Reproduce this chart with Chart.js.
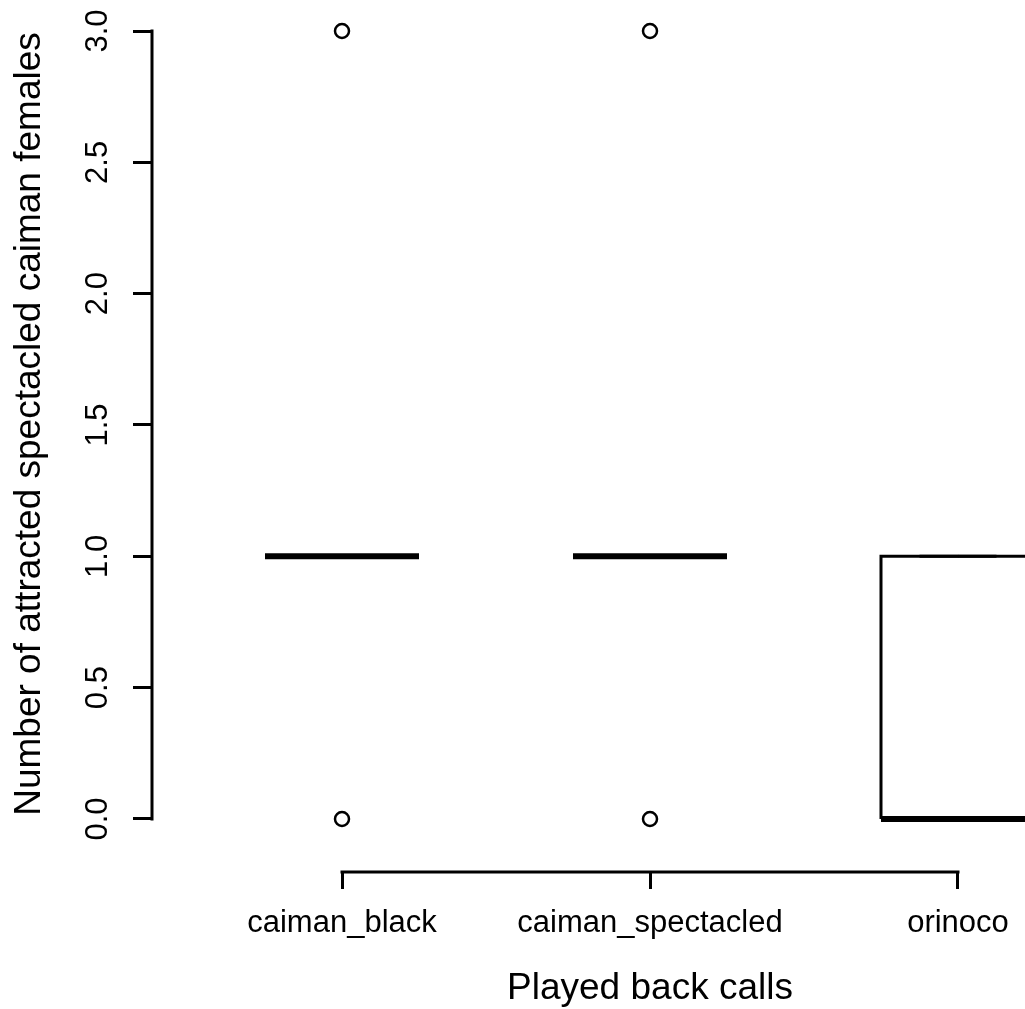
<!DOCTYPE html>
<html lang="en">
<head>
<meta charset="utf-8">
<title>Played back calls</title>
<script src="https://cdn.jsdelivr.net/npm/chart.js@4.4.1/dist/chart.umd.min.js"></script>
<style>
  html, body { margin: 0; padding: 0; overflow: hidden; background: #fff; }
  #boxChart { position: absolute; left: 0; top: -24px; }
</style>
</head>
<body>
<canvas id="boxChart" width="1148" height="1033"></canvas>
<script>
// 박스플롯 데이터
const categories = ['caiman_black', 'caiman_spectacled', 'orinoco'];
const lowerWhisker = [1, 1, 0];
const q1Values = [1, 1, 0];
const medianValues = [1, 1, 0];
const q3Values = [1, 1, 1];
const upperWhisker = [1, 1, 1];
const outlierValues = [[0, 3], [0, 3], []];
const yTicks = [0, 0.5, 1, 1.5, 2, 2.5, 3];

const BOX_HALF = 0.25;
const STAPLE_HALF = 0.125;

const BoxPlotChart = {
  init() {
    Chart.defaults.font.family = "'Liberation Sans', Arial, sans-serif";
    Chart.defaults.color = '#000';
    this.draw();
  },

  // 선 하나짜리 데이터셋
  lineSet(points, width, extra) {
    return Object.assign({
      data: points,
      showLine: true,
      borderColor: '#000',
      borderWidth: width,
      borderCapStyle: 'butt',
      borderJoinStyle: 'miter',
      pointRadius: 0,
      fill: false,
      tension: 0,
      order: 1
    }, extra || {});
  },

  // 박스, 수염, 중앙값, 이상치
  buildDatasets() {
    const sets = [];
    categories.forEach((name, i) => {
      const x = i + 1;
      // 중앙값 (맨 위에 그림)
      sets.push(this.lineSet([
        { x: x - BOX_HALF, y: medianValues[i] },
        { x: x + BOX_HALF, y: medianValues[i] }
      ], 6, { order: 0 }));
      // 박스
      sets.push(this.lineSet([
        { x: x - BOX_HALF, y: q1Values[i] },
        { x: x + BOX_HALF, y: q1Values[i] },
        { x: x + BOX_HALF, y: q3Values[i] },
        { x: x - BOX_HALF, y: q3Values[i] },
        { x: x - BOX_HALF, y: q1Values[i] }
      ], 3));
      // 수염 (점선)
      sets.push(this.lineSet([
        { x: x, y: q1Values[i] }, { x: x, y: lowerWhisker[i] }
      ], 3, { borderDash: [12, 12] }));
      sets.push(this.lineSet([
        { x: x, y: q3Values[i] }, { x: x, y: upperWhisker[i] }
      ], 3, { borderDash: [12, 12] }));
      // 수염 끝
      sets.push(this.lineSet([
        { x: x - STAPLE_HALF, y: lowerWhisker[i] }, { x: x + STAPLE_HALF, y: lowerWhisker[i] }
      ], 3));
      sets.push(this.lineSet([
        { x: x - STAPLE_HALF, y: upperWhisker[i] }, { x: x + STAPLE_HALF, y: upperWhisker[i] }
      ], 3));
    });

    // 이상치
    const outliers = [];
    outlierValues.forEach((vals, i) => {
      vals.forEach(v => outliers.push({ x: i + 1, y: v }));
    });
    sets.push({
      data: outliers,
      showLine: false,
      pointStyle: 'circle',
      pointRadius: 7,
      pointBorderWidth: 2.5,
      pointBorderColor: '#000',
      pointBackgroundColor: 'rgba(0,0,0,0)',
      order: 0
    });
    return sets;
  },

  // R 스타일 축선 (첫 눈금 ~ 마지막 눈금)
  axisLinePlugin: {
    id: 'axisLines',
    afterDraw(chart) {
      const { ctx, chartArea, scales: { x, y } } = chart;
      ctx.save();
      ctx.strokeStyle = '#000';
      ctx.lineWidth = 3;
      ctx.lineCap = 'square';
      ctx.beginPath();
      ctx.moveTo(chartArea.left, y.getPixelForValue(yTicks[0]));
      ctx.lineTo(chartArea.left, y.getPixelForValue(yTicks[yTicks.length - 1]));
      ctx.moveTo(x.getPixelForValue(1), chartArea.bottom);
      ctx.lineTo(x.getPixelForValue(categories.length), chartArea.bottom);
      ctx.stroke();
      ctx.restore();
    }
  },

  draw() {
    const ctx = document.getElementById('boxChart');
    if (!ctx) return;

    new Chart(ctx, {
      type: 'scatter',
      data: { datasets: this.buildDatasets() },
      options: {
        responsive: false,
        animation: false,
        devicePixelRatio: 1,
        events: [],
        layout: { padding: 0, autoPadding: false },
        plugins: {
          legend: { display: false },
          tooltip: { enabled: false }
        },
        scales: {
          x: {
            type: 'linear',
            min: 0.3831,
            max: 3.6169,
            afterBuildTicks: scale => {
              scale.ticks = categories.map((c, i) => ({ value: i + 1 }));
            },
            afterFit: scale => {
              scale.height = 137;
              scale.paddingLeft = 0;
              scale.paddingRight = 0;
            },
            border: { display: false },
            grid: {
              drawOnChartArea: false,
              drawTicks: true,
              tickLength: 17,
              lineWidth: 3,
              color: '#000'
            },
            ticks: {
              autoSkip: false,
              minRotation: 0,
              maxRotation: 0,
              padding: 16,
              color: '#000',
              font: { size: 31 },
              callback: v => categories[v - 1]
            },
            title: {
              display: true,
              text: 'Played back calls',
              color: '#000',
              font: { size: 37, lineHeight: 1 },
              padding: { top: 0, bottom: 2 }
            }
          },
          y: {
            type: 'linear',
            min: -0.2018,
            max: 3.2094,
            afterBuildTicks: scale => {
              scale.ticks = yTicks.map(v => ({ value: v }));
            },
            afterFit: scale => {
              scale.width = 152;
              scale.paddingTop = 0;
              scale.paddingBottom = 0;
            },
            border: { display: false },
            grid: {
              drawOnChartArea: false,
              drawTicks: true,
              tickLength: 19,
              lineWidth: 3,
              color: '#000'
            },
            ticks: {
              autoSkip: false,
              minRotation: 90,
              maxRotation: 90,
              crossAlign: 'center',
              padding: 13,
              color: '#000',
              font: { size: 31 },
              callback: v => v.toFixed(1)
            },
            title: {
              display: true,
              text: 'Number of attracted spectacled caiman females',
              color: '#000',
              font: { size: 37, lineHeight: 1 },
              padding: { top: 11.5, bottom: 0 }
            }
          }
        }
      },
      plugins: [this.axisLinePlugin]
    });
  }
};

// 페이지 로드 시 초기화
document.addEventListener('DOMContentLoaded', () => {
  BoxPlotChart.init();
});
</script>
</body>
</html>
